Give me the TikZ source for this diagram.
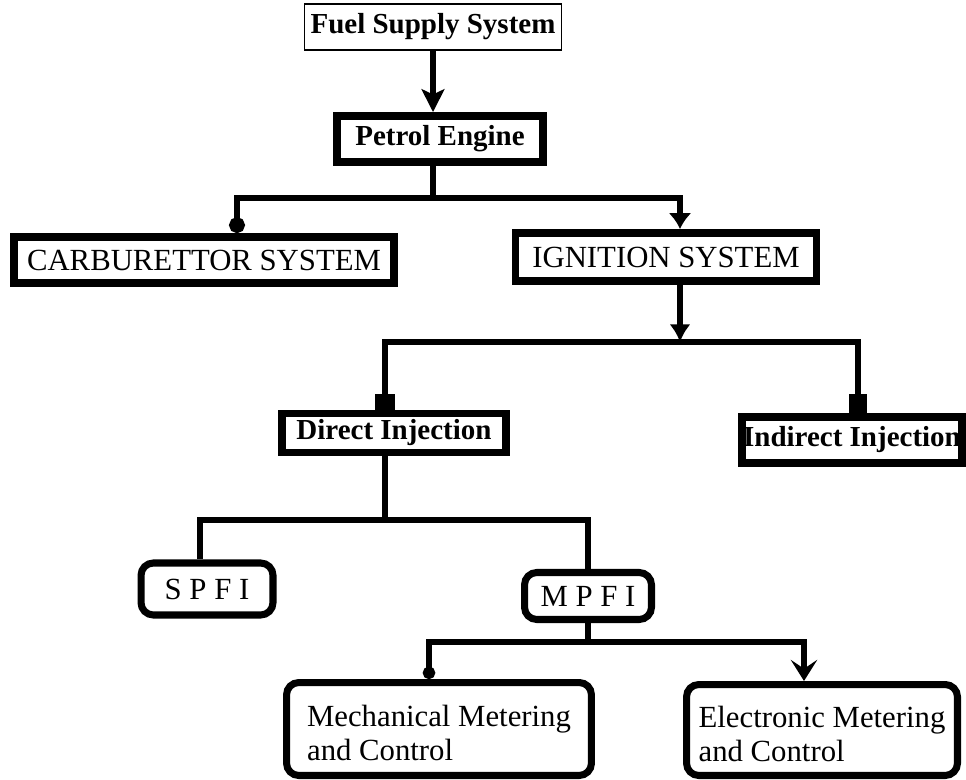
\documentclass[tikz,border=0pt]{standalone}
\usepackage{fontspec}
\setmainfont{Liberation Serif}
\usetikzlibrary{arrows.meta}

\begin{document}
\begin{tikzpicture}[x=0.02cm, y=-0.02cm,
    link/.style={line width=3.5pt},
    plainbox/.style={draw, line width=1.1pt, inner sep=0pt},
    heavybox/.style={draw, line width=4.5pt, inner sep=0pt},
    roundbox/.style={draw, line width=4pt, rounded corners=7pt, inner sep=0pt},
    boldtxt/.style={font=\bfseries\fontsize{16.5}{19}\selectfont},
    plaintxt/.style={font=\fontsize{17.5}{19}\selectfont}]
        \useasboundingbox (0, 0) rectangle (966, 780);
        % boxes
        \node[plainbox, boldtxt, minimum width=5.14cm, minimum height=0.92cm] (fuel) at (433, 27) {Fuel Supply System};
        \node[heavybox, boldtxt, minimum width=4.12cm, minimum height=0.92cm] (petrol) at (440, 139) {Petrol Engine};
        \node[heavybox, plaintxt, minimum width=7.6cm, minimum height=0.92cm] (carb) at (204, 260) {CARBURETTOR SYSTEM};
        \node[heavybox, plaintxt, minimum width=6.02cm, minimum height=0.96cm] (ign) at (666, 257) {IGNITION SYSTEM};
        \node[heavybox, boldtxt, minimum width=4.48cm, minimum height=0.78cm] (direct) at (394, 433) {Direct Injection};
        \node[heavybox, boldtxt, minimum width=4.4cm, minimum height=0.92cm] (indirect) at (852, 440) {Indirect Injection};
        \node[roundbox, plaintxt, minimum width=2.64cm, minimum height=1.04cm] (spfi) at (207, 589) {S P F I};
        \node[roundbox, plaintxt, minimum width=2.54cm, minimum height=0.94cm] (mpfi) at (588, 596) {M P F I};
        \node[roundbox, plaintxt, align=left, minimum width=6.1cm, minimum height=1.86cm] (mech) at (439, 729)
          {\rule{0pt}{16.5pt}Mechanical Metering\\and Control};
        \node[roundbox, plaintxt, align=left, minimum width=5.42cm, minimum height=1.82cm] (elec) at (822, 730)
          {\rule{0pt}{16.5pt}Electronic Metering\\and Control};
        % branch points
        \coordinate (pe) at (433, 198);
        \coordinate (cb) at (237, 198);
        \coordinate (ig) at (680, 198);
        \coordinate (is) at (680, 342);
        \coordinate (dj) at (385, 342);
        \coordinate (ij) at (858, 342);
        \coordinate (ds) at (385, 520);
        \coordinate (sp) at (200, 520);
        \coordinate (ms) at (588, 642);
        \coordinate (mc) at (429, 642);
        \coordinate (ec) at (804, 642);
        % connectors
        \draw[link, -{Stealth[length=13pt, width=13pt, inset=3pt]}] (fuel.south) -- (fuel.south |- petrol.north);
        \draw[link] (petrol.south -| pe) -- (pe);
        \draw[link, -{Circle[length=9pt]}] (pe) -| (cb |- carb.north);
        \draw[link, -{Latex[length=9pt, width=13pt]}] (pe) -| (ig |- ign.north);
        \draw[link, -{Latex[length=10pt, width=12pt]}] (ign.south -| is) -- (is);
        \draw[link, -{Square[length=9pt, width=11pt]}] (is) -| (dj |- direct.north);
        \draw[link, -{Square[length=11pt, width=10pt]}] (is) -| (ij |- indirect.north);
        \draw[link] (direct.south -| ds) -- (ds);
        \draw[link] (ds) -| (sp |- spfi.north);
        \draw[link] (ds) -| (mpfi.north);
        \draw[link] (mpfi.south) -- (ms);
        \draw[link, -{Circle[length=7pt]}] (ms) -| (mc |- mech.north);
        \draw[link, -{Stealth[length=12pt, width=15pt, inset=5pt]}] (ms) -| (ec |- elec.north);
      \end{tikzpicture}
\end{document}
